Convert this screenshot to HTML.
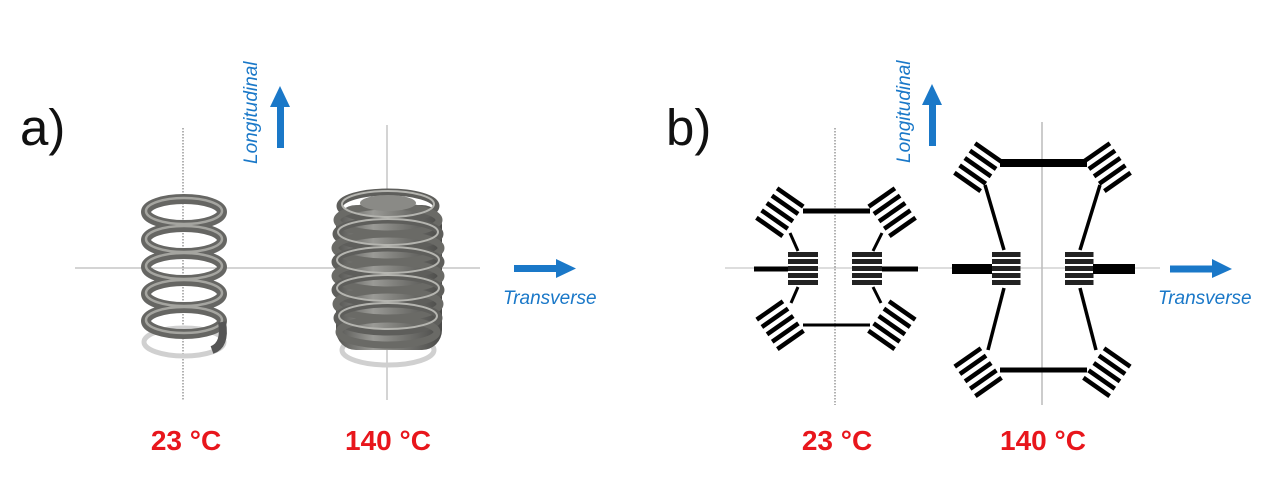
<!DOCTYPE html>
<html><head><meta charset="utf-8"><style>
html,body{margin:0;padding:0;background:#fff;}
svg{display:block;}
text{font-family:"Liberation Sans",sans-serif;}
</style></head><body>
<svg width="1280" height="492" viewBox="0 0 1280 492" xmlns="http://www.w3.org/2000/svg">
<defs>
<linearGradient id="met" x1="0" x2="1" y1="0" y2="0">
<stop offset="0" stop-color="#555552"/><stop offset="0.35" stop-color="#9a9a96"/><stop offset="0.6" stop-color="#7a7a76"/><stop offset="1" stop-color="#4a4a48"/>
</linearGradient>
<g id="blk">
<rect x="-16" y="-20" width="32" height="4.5" fill="#000"/>
<rect x="-16" y="-11" width="32" height="4.5" fill="#000"/>
<rect x="-16" y="-2" width="32" height="4.5" fill="#000"/>
<rect x="-16" y="7" width="32" height="4.5" fill="#000"/>
<rect x="-16" y="16" width="32" height="4.5" fill="#000"/>
</g>
<g id="cblk">
<rect x="0" y="0" width="30" height="5" fill="#222"/>
<rect x="0" y="7" width="30" height="5" fill="#222"/>
<rect x="0" y="14" width="30" height="5" fill="#222"/>
<rect x="0" y="21" width="30" height="5" fill="#222"/>
<rect x="0" y="28" width="30" height="5" fill="#222"/>
</g>
</defs>

<!-- panel a -->
<text x="20" y="145" font-size="51" fill="#111">a)</text>
<line x1="183" y1="128" x2="183" y2="400" stroke="#999" stroke-width="1.5" stroke-dasharray="1.5 1.5"/>
<line x1="387" y1="125" x2="387" y2="400" stroke="#aaa" stroke-width="1"/>
<line x1="75" y1="268" x2="480" y2="268" stroke="#aaa" stroke-width="1"/>

<!-- spring 1 -->
<ellipse cx="184" cy="342" rx="40" ry="14" fill="none" stroke="#d0d0d0" stroke-width="5"/>
<g fill="none">
<ellipse cx="184" cy="212" rx="38" ry="13" stroke="#666663" stroke-width="10"/>
<ellipse cx="184" cy="240" rx="38" ry="13" stroke="#666663" stroke-width="10"/>
<ellipse cx="184" cy="267" rx="38" ry="13" stroke="#666663" stroke-width="10"/>
<ellipse cx="184" cy="294" rx="38" ry="13" stroke="#666663" stroke-width="10"/>
<ellipse cx="184" cy="321" rx="38" ry="13" stroke="#666663" stroke-width="10"/>
<ellipse cx="184" cy="211" rx="38" ry="13" stroke="#a5a5a0" stroke-width="2.5"/>
<ellipse cx="184" cy="239" rx="38" ry="13" stroke="#a5a5a0" stroke-width="2.5"/>
<ellipse cx="184" cy="266" rx="38" ry="13" stroke="#a5a5a0" stroke-width="2.5"/>
<ellipse cx="184" cy="293" rx="38" ry="13" stroke="#a5a5a0" stroke-width="2.5"/>
<ellipse cx="184" cy="320" rx="38" ry="13" stroke="#a5a5a0" stroke-width="2.5"/>
<path d="M222 322 Q226 345 212 350" stroke="#555" stroke-width="8"/>
</g>

<!-- spring 2 -->
<ellipse cx="388" cy="350" rx="46" ry="15" fill="none" stroke="#d0d0d0" stroke-width="5"/>
<rect x="336" y="205" width="106" height="145" rx="20" fill="url(#met)"/>
<g fill="none" stroke-width="7">
<ellipse cx="388" cy="206" rx="48" ry="14" stroke="#5e5e5b"/>
<ellipse cx="388" cy="220" rx="51" ry="14" stroke="#6a6a66"/>
<ellipse cx="388" cy="234" rx="52" ry="14" stroke="#5e5e5b"/>
<ellipse cx="388" cy="248" rx="53" ry="14" stroke="#6a6a66"/>
<ellipse cx="388" cy="262" rx="53" ry="14" stroke="#5e5e5b"/>
<ellipse cx="388" cy="276" rx="53" ry="14" stroke="#6a6a66"/>
<ellipse cx="388" cy="290" rx="53" ry="14" stroke="#5e5e5b"/>
<ellipse cx="388" cy="304" rx="52" ry="14" stroke="#6a6a66"/>
<ellipse cx="388" cy="318" rx="51" ry="14" stroke="#5e5e5b"/>
<ellipse cx="388" cy="332" rx="49" ry="13" stroke="#6a6a66"/>
</g>
<g fill="none" stroke="#b5b5b0" stroke-width="2">
<ellipse cx="388" cy="204" rx="46" ry="13"/>
<ellipse cx="388" cy="232" rx="50" ry="13"/>
<ellipse cx="388" cy="260" rx="51" ry="13"/>
<ellipse cx="388" cy="288" rx="51" ry="13"/>
<ellipse cx="388" cy="316" rx="49" ry="13"/>
</g>
<ellipse cx="388" cy="203" rx="28" ry="8" fill="#8a8a86"/>

<!-- arrows a -->
<rect x="277" y="105" width="7" height="43" fill="#1a78c8"/>
<polygon points="270,107 290,107 280,86" fill="#1a78c8"/>
<text transform="translate(257,164) rotate(-90)" font-size="19" font-style="italic" fill="#1a78c8">Longitudinal</text>
<rect x="514" y="265" width="44" height="7" fill="#1a78c8"/>
<polygon points="556,259 556,278 576,268.5" fill="#1a78c8"/>
<text x="503" y="304" font-size="19" font-style="italic" fill="#1a78c8">Transverse</text>

<text x="186" y="450" font-size="28" font-weight="bold" fill="#e8161c" text-anchor="middle">23 °C</text>
<text x="388" y="450" font-size="28" font-weight="bold" fill="#e8161c" text-anchor="middle">140 °C</text>

<!-- panel b -->
<text x="666" y="145" font-size="51" fill="#111">b)</text>
<line x1="835" y1="128" x2="835" y2="405" stroke="#999" stroke-width="1.5" stroke-dasharray="1.5 1.5"/>
<line x1="1042" y1="122" x2="1042" y2="405" stroke="#999" stroke-width="1"/>
<line x1="725" y1="268" x2="1160" y2="268" stroke="#bbb" stroke-width="1"/>

<!-- small structure -->
<rect x="803" y="208.5" width="67" height="5" fill="#000"/>
<rect x="803" y="323.5" width="67" height="3" fill="#000"/>
<use href="#blk" transform="translate(780,212) rotate(35)"/>
<use href="#blk" transform="translate(892,212) rotate(-35)"/>
<use href="#blk" transform="translate(780,325) rotate(-35)"/>
<use href="#blk" transform="translate(892,325) rotate(35)"/>
<use href="#cblk" transform="translate(788,252)"/>
<use href="#cblk" transform="translate(852,252)"/>
<rect x="754" y="266.5" width="34" height="5" fill="#000"/>
<rect x="882" y="266.5" width="36" height="5" fill="#000"/>
<g stroke="#000" stroke-width="3">
<line x1="790" y1="233" x2="798" y2="251"/>
<line x1="882" y1="233" x2="873" y2="251"/>
<line x1="798" y1="287" x2="791" y2="303"/>
<line x1="873" y1="287" x2="881" y2="303"/>
</g>

<!-- large structure -->
<rect x="1000" y="159" width="87" height="8" fill="#000"/>
<rect x="1000" y="367.5" width="87" height="5" fill="#000"/>
<use href="#blk" transform="translate(978,167) rotate(35)"/>
<use href="#blk" transform="translate(1107,167) rotate(-35)"/>
<use href="#blk" transform="translate(978,372) rotate(-35)"/>
<use href="#blk" transform="translate(1107,372) rotate(35)"/>
<use href="#cblk" transform="translate(992,252) scale(0.95,1)"/>
<use href="#cblk" transform="translate(1065,252) scale(0.95,1)"/>
<rect x="952" y="264" width="40" height="10" fill="#000"/>
<rect x="1093" y="264" width="42" height="10" fill="#000"/>
<g stroke="#000" stroke-width="3.5">
<line x1="985" y1="185" x2="1004" y2="250"/>
<line x1="1100" y1="185" x2="1080" y2="250"/>
<line x1="1004" y1="288" x2="988" y2="350"/>
<line x1="1080" y1="288" x2="1096" y2="350"/>
</g>

<!-- arrows b -->
<rect x="929" y="103" width="7" height="43" fill="#1a78c8"/>
<polygon points="922,105 942,105 932,84" fill="#1a78c8"/>
<text transform="translate(910,163) rotate(-90)" font-size="19" font-style="italic" fill="#1a78c8">Longitudinal</text>
<rect x="1170" y="265.5" width="44" height="7" fill="#1a78c8"/>
<polygon points="1212,259 1212,278 1232,269" fill="#1a78c8"/>
<text x="1158" y="304" font-size="19" font-style="italic" fill="#1a78c8">Transverse</text>

<text x="837" y="450" font-size="28" font-weight="bold" fill="#e8161c" text-anchor="middle">23 °C</text>
<text x="1043" y="450" font-size="28" font-weight="bold" fill="#e8161c" text-anchor="middle">140 °C</text>
</svg>
</body></html>
